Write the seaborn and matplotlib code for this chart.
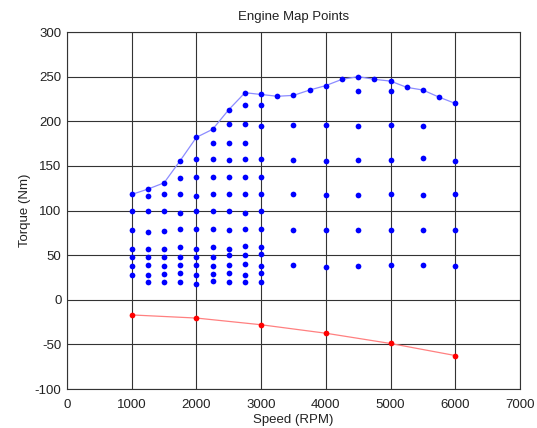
import matplotlib
matplotlib.use("Agg")
import matplotlib.pyplot as plt
import seaborn as sns
import pandas as pd

# Full-load (max torque) curve
wot_rpm = [1000, 1250, 1500, 1750, 2000, 2250, 2500, 2750, 3000, 3250, 3500, 3750,
           4000, 4250, 4500, 4750, 5000, 5250, 5500, 5750, 6000]
wot_torque = [118, 124, 131, 156, 182, 191, 213, 232, 230, 228, 229, 235,
              240, 247, 250, 247, 245, 238, 235, 227, 220]

# Part-load map points (torque values per speed)
map_speeds = [1000, 1250, 1500, 1750, 2000, 2250, 2500, 2750, 3000,
              3500, 4000, 4500, 5000, 5500, 6000]
map_torques = [
    [100, 78, 57, 48, 38, 28],
    [116, 99, 76, 57, 48, 39, 28, 20],
    [118, 99, 77, 57, 48, 38, 29, 20],
    [136, 118, 97, 79, 59, 48, 39, 30, 20],
    [158, 137, 116, 99, 79, 57, 48, 39, 28, 18],
    [176, 158, 138, 118, 99, 79, 59, 48, 38, 29, 21],
    [197, 176, 157, 137, 118, 99, 78, 57, 50, 39, 30, 20],
    [218, 197, 176, 158, 137, 118, 97, 79, 60, 50, 40, 28, 20],
    [218, 195, 158, 137, 118, 100, 79, 59, 51, 38, 30, 20],
    [196, 157, 118, 78, 39],
    [196, 155, 117, 78, 37],
    [234, 195, 157, 117, 78, 38],
    [234, 196, 157, 119, 78, 39],
    [195, 159, 117, 78, 39],
    [156, 118, 78, 38],
]

# Motoring (negative torque) curve
mot_rpm = [1000, 2000, 3000, 4000, 5000, 6000]
mot_torque = [-17, -20.5, -28, -37.5, -49, -62.5]

x_ticks = [0, 1000, 2000, 3000, 4000, 5000, 6000, 7000]
y_ticks = [-100, -50, 0, 50, 100, 150, 200, 250, 300]

sns.set_style("white")
plt.rcParams['font.family'] = ['Liberation Sans', 'DejaVu Sans']
plt.rcParams['axes.unicode_minus'] = False

fig = plt.figure(figsize=(5.37, 4.28), dpi=100)
ax = fig.add_axes([0.1248, 0.0911, 0.8435, 0.8341])

pts = pd.DataFrame(
    [(s, t) for s, ts in zip(map_speeds, map_torques) for t in ts],
    columns=["rpm", "torque"],
)
wot = pd.DataFrame({"rpm": wot_rpm, "torque": wot_torque})
mot = pd.DataFrame({"rpm": mot_rpm, "torque": mot_torque})

ms = 17
sns.lineplot(data=wot, x="rpm", y="torque", ax=ax, color="#8c8cff", lw=0.9,
             sort=False, zorder=3)
sns.scatterplot(data=wot, x="rpm", y="torque", ax=ax, color="#0000ff", s=ms,
                linewidth=0, zorder=4)
sns.scatterplot(data=pts, x="rpm", y="torque", ax=ax, color="#0000ff", s=ms,
                linewidth=0, zorder=4)
sns.lineplot(data=mot, x="rpm", y="torque", ax=ax, color="#ff8080", lw=0.9,
             sort=False, zorder=3)
sns.scatterplot(data=mot, x="rpm", y="torque", ax=ax, color="#ff0000", s=ms,
                linewidth=0, zorder=4)

ax.set_xlim(0, 7000)
ax.set_ylim(-100, 300)
ax.set_xticks(x_ticks)
ax.set_yticks(y_ticks)
ax.grid(True, color="#333333", lw=0.8, ls="-")
ax.set_axisbelow(True)
for sp in ax.spines.values():
    sp.set_color("#333333")
    sp.set_linewidth(0.8)
fs = 9.5
ax.tick_params(direction="in", length=3, width=0.6, colors="#333333",
               labelcolor="#222222", labelsize=fs, top=True, right=True,
               bottom=True, left=True)
ax.tick_params(axis="x", pad=7)
ax.tick_params(axis="y", pad=4)
ax.set_xlabel("Speed (RPM)", fontsize=fs, color="#222222", labelpad=2)
ax.set_ylabel("Torque (Nm)", fontsize=fs, color="#222222", labelpad=3)
ax.set_title("Engine Map Points", fontsize=fs, color="#222222", pad=9)

fig.savefig("out.png", dpi=100, facecolor="white")
